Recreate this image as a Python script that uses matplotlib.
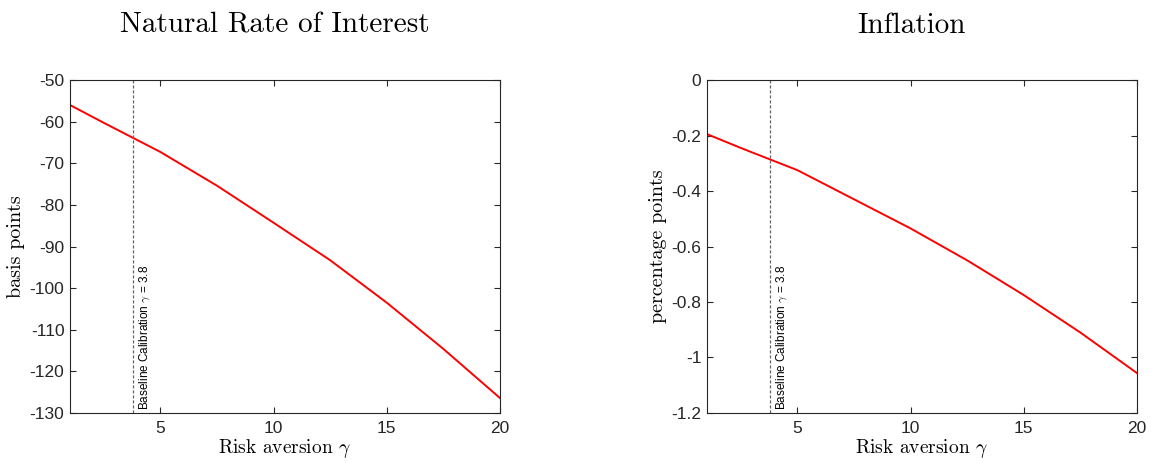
import matplotlib
matplotlib.use("Agg")
import matplotlib.pyplot as plt

# risk aversion grid
gamma = [1, 2.5, 5, 7.5, 10, 12.5, 15, 17.5, 20]

# natural rate of interest, basis points
rstar = [-56.0, -60.3, -67.3, -75.4, -84.3, -93.3, -103.5, -114.6, -126.4]

# inflation, percentage points
infl = [-0.195, -0.245, -0.325, -0.43, -0.535, -0.65, -0.775, -0.91, -1.056]

baseline = 3.8

titles = ["Natural Rate of Interest", "Inflation"]
ylabels = ["basis points", "percentage points"]
ylims = [(-130, -50), (-1.2, 0)]
yticks = [list(range(-130, -49, 10)), [-1.2, -1, -0.8, -0.6, -0.4, -0.2, 0]]
yticklabels = [None, ["-1.2", "-1", "-0.8", "-0.6", "-0.4", "-0.2", "0"]]

plt.rcParams["mathtext.fontset"] = "cm"
plt.rcParams["axes.unicode_minus"] = False
plt.rcParams["font.family"] = ["Liberation Sans", "DejaVu Sans"]

fig = plt.figure(figsize=(11.58, 4.63), dpi=100)
positions = [[0.0604, 0.108, 0.3713, 0.7192], [0.6105, 0.108, 0.3713, 0.7192]]

for i, ys in enumerate([rstar, infl]):
    ax = fig.add_axes(positions[i])
    ax.plot(gamma, ys, color="red", lw=1.4)
    # baseline calibration marker
    ax.axvline(baseline, color="#666666", lw=0.9, ls=(0, (2.5, 1.5)))
    ax.text(baseline + 0.15, ylims[i][0] + (ylims[i][1] - ylims[i][0]) * 0.008,
            r"Baseline Calibration $\gamma$ = 3.8", rotation=90,
            ha="left", va="bottom", fontsize=8.5)
    ax.set_xlim(1, 20)
    ax.set_ylim(*ylims[i])
    ax.set_xticks([5, 10, 15, 20])
    ax.set_yticks(yticks[i])
    if yticklabels[i] is not None:
        ax.set_yticklabels(yticklabels[i])
    ax.tick_params(direction="in", top=True, right=True, labelsize=12.5,
                   colors="#262626", length=4, width=0.8)
    ax.tick_params(axis="x", pad=6)
    ax.tick_params(axis="y", pad=4)
    for s in ax.spines.values():
        s.set_color("#262626")
        s.set_linewidth(0.8)
    ax.set_title(titles[i], family="cmr10", fontsize=21, pad=34, x=0.476)
    ax.set_xlabel(r"Risk aversion $\gamma$", family="cmr10", fontsize=14, labelpad=0.5)
    ax.set_ylabel(ylabels[i], family="cmr10", fontsize=14.5, labelpad=3)

fig.savefig("out.png", dpi=100)
